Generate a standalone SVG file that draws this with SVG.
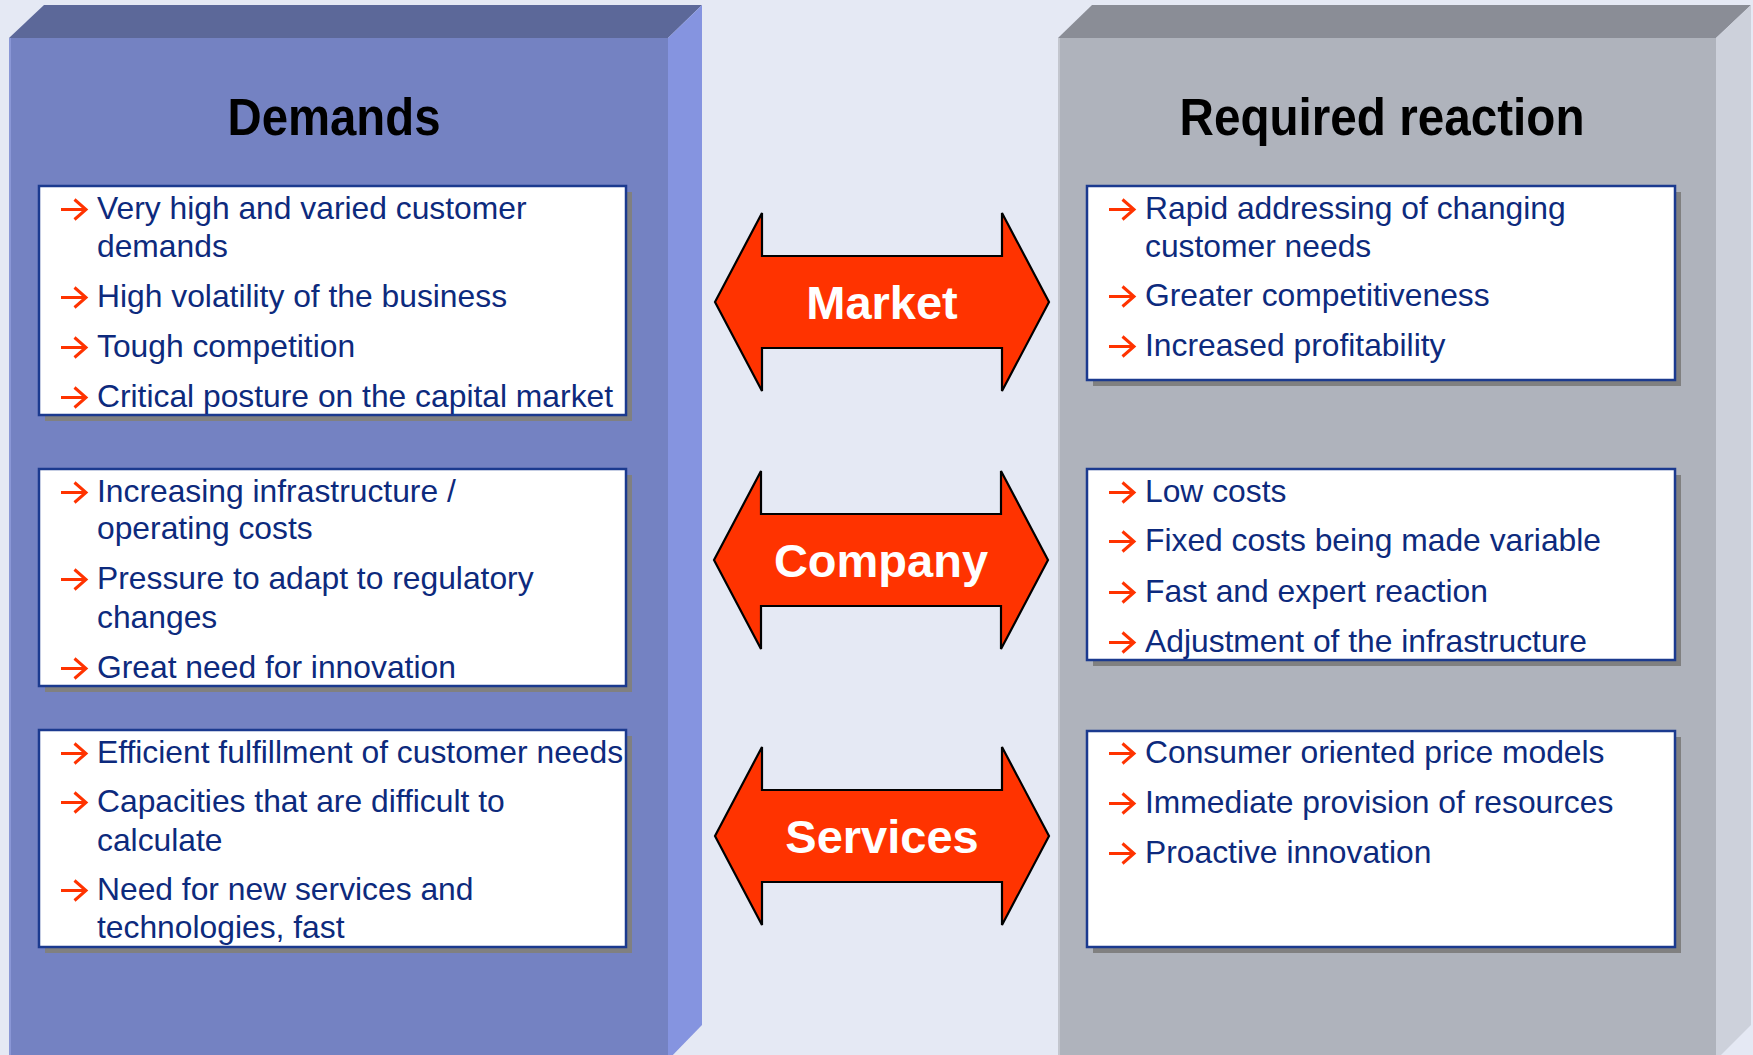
<svg xmlns="http://www.w3.org/2000/svg" xmlns:xlink="http://www.w3.org/1999/xlink" width="1753" height="1055" viewBox="0 0 1753 1055">
<style>
.title{font-family:"Liberation Sans",Arial,sans-serif;font-weight:bold;font-size:51px;fill:#000;text-anchor:middle}
.item{font-family:"Liberation Sans",Arial,sans-serif;font-size:31.8px;fill:#0D2A7D}
.lbl{font-family:"Liberation Sans",Arial,sans-serif;font-weight:bold;font-size:47px;fill:#fff;text-anchor:middle}
.box{fill:#fff;stroke:#1B3A8F;stroke-width:2.5}
.shadow{fill:#808080}
.dbl{fill:#FF3300;stroke:#000;stroke-width:2.2;stroke-linejoin:miter}
.bul{fill:none;stroke:#FF3300;stroke-width:3}
</style>
<defs>
<path id="bul" class="bul" d="M0,-9.5 H25 M13.5,-19.5 L25,-9.5 L13.5,0.5"/>
<path id="dbl" class="dbl" d="M0,0 L47,-89 L47,-46 L287,-46 L287,-89 L334,0 L287,89 L287,46 L47,46 L47,89 Z"/>
</defs>
<rect x="0" y="0" width="1753" height="1055" fill="#E5E9F4"/>

<g id="demands-panel">
<polygon points="9,38 44,5 702,5 668,38" fill="#5C6899"/>
<polygon points="668,38 702,5 702,1025 668,1060" fill="#8594E0"/>
<rect x="9" y="38" width="659" height="1020" fill="#7482C2"/>
<rect x="9" y="38" width="2" height="1020" fill="#8A97D6"/>
<text class="title" x="334" y="135" textLength="213" lengthAdjust="spacingAndGlyphs">Demands</text>
</g>

<g id="reaction-panel">
<polygon points="1058,38 1092,5 1751,5 1716,38" fill="#8A8D96"/>
<polygon points="1716,38 1751,5 1751,1025 1716,1060" fill="#CDD1DB"/>
<rect x="1058" y="38" width="658" height="1020" fill="#AFB3BC"/>
<rect x="1058" y="38" width="2" height="1020" fill="#C3C6CE"/>
<text class="title" x="1382" y="135" textLength="405" lengthAdjust="spacingAndGlyphs">Required reaction</text>
</g>

<g id="demands-market">
<rect class="shadow" x="45" y="192" width="587" height="229"/>
<rect class="box" x="39" y="186" width="587" height="229"/>
<use xlink:href="#bul" x="61" y="219"/>
<text class="item" x="97" y="219">Very high and varied customer</text>
<text class="item" x="97" y="257">demands</text>
<use xlink:href="#bul" x="61" y="307"/>
<text class="item" x="97" y="307">High volatility of the business</text>
<use xlink:href="#bul" x="61" y="357"/>
<text class="item" x="97" y="357">Tough competition</text>
<use xlink:href="#bul" x="61" y="407"/>
<text class="item" x="97" y="407">Critical posture on the capital market</text>
</g>

<g id="demands-company">
<rect class="shadow" x="45" y="475" width="587" height="217"/>
<rect class="box" x="39" y="469" width="587" height="217"/>
<use xlink:href="#bul" x="61" y="502"/>
<text class="item" x="97" y="502">Increasing infrastructure /</text>
<text class="item" x="97" y="539">operating costs</text>
<use xlink:href="#bul" x="61" y="589"/>
<text class="item" x="97" y="589">Pressure to adapt to regulatory</text>
<text class="item" x="97" y="628">changes</text>
<use xlink:href="#bul" x="61" y="678"/>
<text class="item" x="97" y="678">Great need for innovation</text>
</g>

<g id="demands-services">
<rect class="shadow" x="45" y="736" width="587" height="217"/>
<rect class="box" x="39" y="730" width="587" height="217"/>
<use xlink:href="#bul" x="61" y="763"/>
<text class="item" x="97" y="763">Efficient fulfillment of customer needs</text>
<use xlink:href="#bul" x="61" y="812"/>
<text class="item" x="97" y="812">Capacities that are difficult to</text>
<text class="item" x="97" y="851">calculate</text>
<use xlink:href="#bul" x="61" y="900"/>
<text class="item" x="97" y="900">Need for new services and</text>
<text class="item" x="97" y="938">technologies, fast</text>
</g>

<g id="reaction-market">
<rect class="shadow" x="1093" y="192" width="588" height="194"/>
<rect class="box" x="1087" y="186" width="588" height="194"/>
<use xlink:href="#bul" x="1109" y="219"/>
<text class="item" x="1145" y="219">Rapid addressing of changing</text>
<text class="item" x="1145" y="257">customer needs</text>
<use xlink:href="#bul" x="1109" y="306"/>
<text class="item" x="1145" y="306">Greater competitiveness</text>
<use xlink:href="#bul" x="1109" y="356"/>
<text class="item" x="1145" y="356">Increased profitability</text>
</g>

<g id="reaction-company">
<rect class="shadow" x="1093" y="475" width="588" height="191"/>
<rect class="box" x="1087" y="469" width="588" height="191"/>
<use xlink:href="#bul" x="1109" y="502"/>
<text class="item" x="1145" y="502">Low costs</text>
<use xlink:href="#bul" x="1109" y="551"/>
<text class="item" x="1145" y="551">Fixed costs being made variable</text>
<use xlink:href="#bul" x="1109" y="602"/>
<text class="item" x="1145" y="602">Fast and expert reaction</text>
<use xlink:href="#bul" x="1109" y="652"/>
<text class="item" x="1145" y="652">Adjustment of the infrastructure</text>
</g>

<g id="reaction-services">
<rect class="shadow" x="1093" y="737" width="588" height="216"/>
<rect class="box" x="1087" y="731" width="588" height="216"/>
<use xlink:href="#bul" x="1109" y="763"/>
<text class="item" x="1145" y="763">Consumer oriented price models</text>
<use xlink:href="#bul" x="1109" y="813"/>
<text class="item" x="1145" y="813">Immediate provision of resources</text>
<use xlink:href="#bul" x="1109" y="863"/>
<text class="item" x="1145" y="863">Proactive innovation</text>
</g>

<g id="connectors">
<g id="arrow-market">
<use xlink:href="#dbl" x="715" y="302"/>
<text class="lbl" x="882" y="319">Market</text>
</g>
<g id="arrow-company">
<use xlink:href="#dbl" x="714" y="560"/>
<text class="lbl" x="881" y="577">Company</text>
</g>
<g id="arrow-services">
<use xlink:href="#dbl" x="715" y="836"/>
<text class="lbl" x="882" y="853">Services</text>
</g>
</g>
</svg>
